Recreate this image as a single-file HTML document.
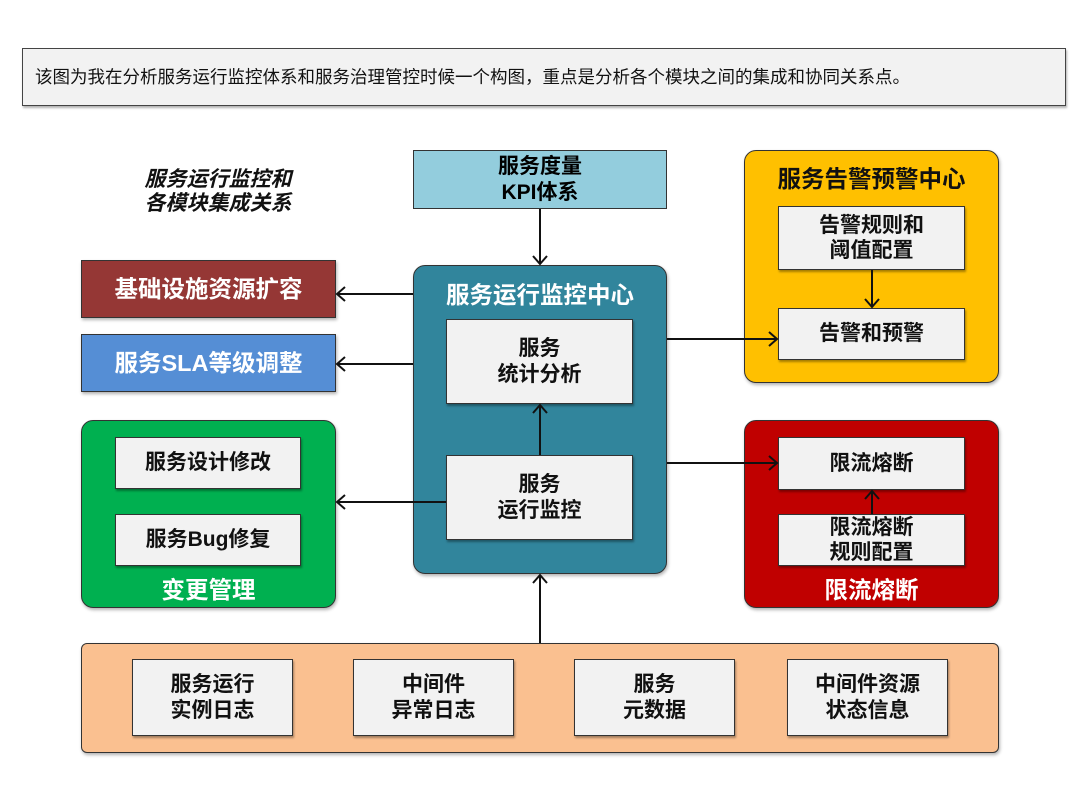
<!DOCTYPE html>
<html><head><meta charset="utf-8"><style>
*{margin:0;padding:0;box-sizing:border-box}
body{width:1080px;height:810px;background:#fff;position:relative;overflow:hidden;font-family:"Liberation Sans","Noto Sans CJK SC",sans-serif;font-weight:bold}
.b{position:absolute;display:flex;align-items:center;justify-content:center;text-align:center;line-height:1.2}
.in{background:#f2f2f2;border:1px solid #333;box-shadow:1px 2px 2px rgba(0,0,0,.35);font-size:21px;color:#111}
.grp{border:1px solid #333;border-radius:12px;box-shadow:1px 2px 3px rgba(0,0,0,.3)}
.t{position:absolute;font-size:23.5px;text-align:center;white-space:nowrap}
</style></head><body>
<div class="b" style="left:22px;top:48px;width:1044px;height:58px;background:#f2f2f2;border:1px solid #444;box-shadow:1px 2px 2px rgba(0,0,0,.3);justify-content:flex-start;padding-left:12px;font-weight:normal;font-size:17.5px;color:#111;white-space:nowrap">该图为我在分析服务运行监控体系和服务治理管控时候一个构图，重点是分析各个模块之间的集成和协同关系点。</div>
<div class="t" style="left:118px;top:168px;width:200px;font-size:21px;font-style:italic;line-height:1.15;color:#111">服务运行监控和<br>各模块集成关系</div>

<div class="b" style="left:413px;top:150px;width:254px;height:59px;background:#93cddd;border:1px solid #333;font-size:21px">服务度量<br>KPI体系</div>

<div class="b" style="left:81px;top:260px;width:255px;height:58px;background:#953735;border:1px solid #333;color:#fff;font-size:23.5px;box-shadow:1px 2px 3px rgba(0,0,0,.3)">基础设施资源扩容</div>
<div class="b" style="left:81px;top:334px;width:255px;height:58px;background:#558ed5;border:1px solid #333;color:#fff;font-size:23.5px;box-shadow:1px 2px 3px rgba(0,0,0,.3)">服务SLA等级调整</div>

<div class="grp" style="position:absolute;left:81px;top:420px;width:255px;height:188px;background:#00b050"></div>
<div class="b in" style="left:115px;top:437px;width:186px;height:52px">服务设计修改</div>
<div class="b in" style="left:115px;top:514px;width:186px;height:52px">服务Bug修复</div>
<div class="t" style="left:81px;top:571px;width:255px;color:#fff">变更管理</div>

<div class="grp" style="position:absolute;left:413px;top:265px;width:254px;height:309px;background:#31859c"></div>
<div class="t" style="left:413px;top:276px;width:254px;color:#fff">服务运行监控中心</div>
<div class="b in" style="left:446px;top:319px;width:187px;height:85px">服务<br>统计分析</div>
<div class="b in" style="left:446px;top:455px;width:187px;height:85px">服务<br>运行监控</div>

<div class="grp" style="position:absolute;left:744px;top:150px;width:255px;height:233px;background:#ffc000"></div>
<div class="t" style="left:744px;top:160px;width:255px;color:#111">服务告警预警中心</div>
<div class="b in" style="left:778px;top:206px;width:187px;height:64px">告警规则和<br>阈值配置</div>
<div class="b in" style="left:778px;top:308px;width:187px;height:52px">告警和预警</div>

<div class="grp" style="position:absolute;left:744px;top:420px;width:255px;height:188px;background:#c00000"></div>
<div class="b in" style="left:778px;top:437px;width:187px;height:53px">限流熔断</div>
<div class="b in" style="left:778px;top:514px;width:187px;height:52px">限流熔断<br>规则配置</div>
<div class="t" style="left:744px;top:571px;width:255px;color:#fff">限流熔断</div>

<div style="position:absolute;left:81px;top:643px;width:918px;height:110px;background:#fac090;border:1px solid #333;border-radius:6px;box-shadow:1px 2px 3px rgba(0,0,0,.3)"></div>
<div class="b in" style="left:132px;top:659px;width:161px;height:77px">服务运行<br>实例日志</div>
<div class="b in" style="left:353px;top:659px;width:161px;height:77px">中间件<br>异常日志</div>
<div class="b in" style="left:574px;top:659px;width:161px;height:77px">服务<br>元数据</div>
<div class="b in" style="left:787px;top:659px;width:161px;height:77px">中间件资源<br>状态信息</div>

<svg width="1080" height="810" style="position:absolute;left:0;top:0" fill="none" stroke="#111" stroke-width="2">
<path d="M540 209V264M533 256L540 264L547 256"/>
<path d="M413 294H337M345 287L337 294L345 301"/>
<path d="M413 364H337M345 357L337 364L345 371"/>
<path d="M446 502H337M345 495L337 502L345 509"/>
<path d="M540 455V405M533 413L540 405L547 413"/>
<path d="M667 339H777M769 332L777 339L769 346"/>
<path d="M667 463H777M769 456L777 463L769 470"/>
<path d="M872 270V307M865 299L872 307L879 299"/>
<path d="M872 514V491M865 499L872 491L879 499"/>
<path d="M540 643V575M533 583L540 575L547 583"/>
</svg>
</body></html>
